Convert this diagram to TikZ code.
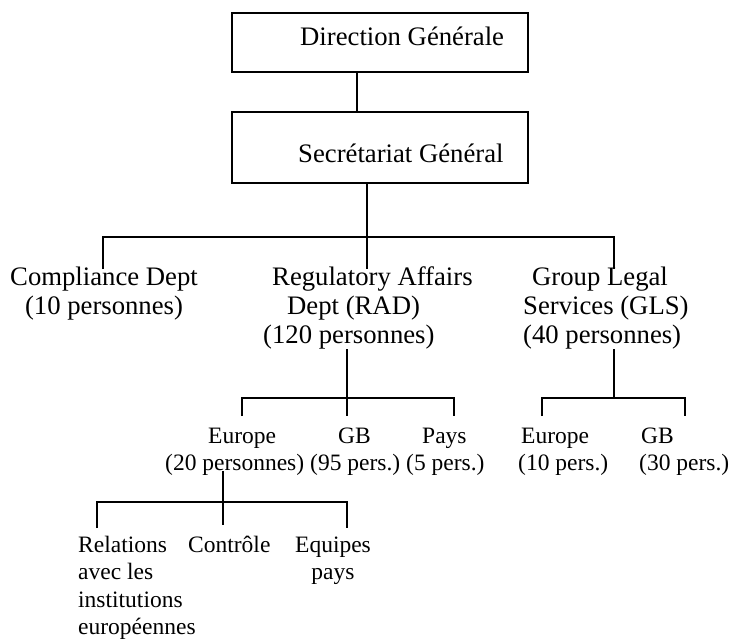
\documentclass[tikz,border=0pt]{standalone}
\usepackage{fontspec}
\setmainfont{Liberation Serif}
\begin{document}
\begin{tikzpicture}[x=1pt,y=-1pt,
  big/.style={inner sep=0pt,font=\fontsize{26.7}{29}\selectfont},
  small/.style={inner sep=0pt,font=\fontsize{23.5}{27.5}\selectfont},
  boxnode/.style={draw,line width=2pt,minimum width=296pt,inner sep=0pt},
  conn/.style={line width=2pt}]
\useasboundingbox (0,0) rectangle (735,641);
% boxes
\node[boxnode,minimum height=59pt] (dg) at (380,42.5) {};
\node[boxnode,minimum height=71pt] (sg) at (380,147.5) {};
\node[big,anchor=base west] (dgt) at (300,45) {Direction Générale};
\node[big,anchor=base west] (sgt) at (298,162) {Secrétariat Général};
% level 2
\node[big,anchor=north,align=center] (cd) at (104,264.7) {\strut Compliance Dept\\(10 personnes)};
\node[big,anchor=north west,align=left] (rad) at (263,264.7) {\strut\hspace*{9pt}Regulatory Affairs\\\hspace*{24pt}Dept (RAD)\\(120 personnes)};
\node[big,anchor=north west,align=left] (gls) at (523,264.7) {\strut\hspace*{9pt}Group Legal\\Services (GLS)\\(40 personnes)};
% level 3
\node[small,anchor=north west,align=left] (e1) at (165,423.75) {\strut\hspace*{43pt}Europe\\(20 personnes)};
\node[small,anchor=north west,align=left] (g1) at (310,423.75) {\strut\hspace*{28pt}GB\\(95 pers.)};
\node[small,anchor=north west,align=left] (p1) at (406,423.75) {\strut\hspace*{16pt}Pays\\(5 pers.)};
\node[small,anchor=north west,align=left] (e2) at (518,423.75) {\strut\hspace*{3pt}Europe\\(10 pers.)};
\node[small,anchor=north west,align=left] (g2) at (639,423.75) {\strut\hspace*{2pt}GB\\(30 pers.)};
% level 4
\node[small,anchor=north west,align=left] (rel) at (78,532.75) {\strut Relations\\avec les\\institutions\\européennes};
\node[small,anchor=north west] (ctl) at (188,532.75) {\strut Contrôle};
\node[small,anchor=north,align=center] (eqp) at (333,532.75) {\strut Equipes\\pays};
% coordinates
\coordinate (c1) at (357,0);
\coordinate (b1) at (367,237);
\coordinate (k1L) at (103,269);
\coordinate (k1M) at (367,269);
\coordinate (k1R) at (614,269);
\coordinate (b2) at (347,398);
\coordinate (k2L) at (242,416);
\coordinate (k2M) at (347,416);
\coordinate (k2R) at (454,416);
\coordinate (b3) at (614,398);
\coordinate (k3L) at (542,416);
\coordinate (k3R) at (685,416);
\coordinate (b4) at (223,502);
\coordinate (k4L) at (97,528);
\coordinate (k4M) at (223,525);
\coordinate (k4R) at (347,528);
% connectors
\draw[conn] (dg.south -| c1) -- (sg.north -| c1);
\draw[conn] (sg.south -| b1) -- (k1M);
\draw[conn] (k1L) |- (b1) -| (k1R);
\draw[conn] (rad.south -| b2) -- (k2M);
\draw[conn] (k2L) |- (b2) -| (k2R);
\draw[conn] (gls.south -| b3) -- (b3);
\draw[conn] (k3L) |- (b3) -| (k3R);
\draw[conn,shorten <=-5pt] (e1.south -| b4) -- (k4M);
\draw[conn] (k4L) |- (b4) -| (k4R);
\end{tikzpicture}
\end{document}
